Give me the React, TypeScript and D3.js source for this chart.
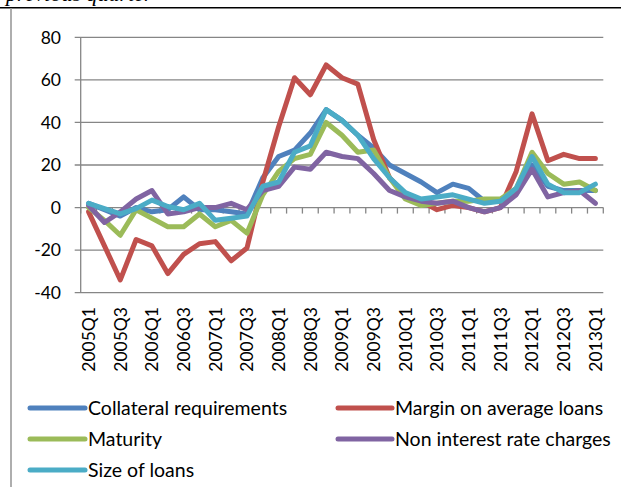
import React from "react";
import * as d3 from "d3";

// Quarterly survey results, net percentages
const quarters = [
  "2005Q1", "2005Q2", "2005Q3", "2005Q4",
  "2006Q1", "2006Q2", "2006Q3", "2006Q4",
  "2007Q1", "2007Q2", "2007Q3", "2007Q4",
  "2008Q1", "2008Q2", "2008Q3", "2008Q4",
  "2009Q1", "2009Q2", "2009Q3", "2009Q4",
  "2010Q1", "2010Q2", "2010Q3", "2010Q4",
  "2011Q1", "2011Q2", "2011Q3", "2011Q4",
  "2012Q1", "2012Q2", "2012Q3", "2012Q4",
  "2013Q1",
];

const collateral = [2, -1, -4, 0, -2, -1, 5, -1, -1, -2, -3, 14, 24, 27, 35, 46, 41, 34, 28, 20, 16, 12, 7, 11, 9, 3, 3, 8, 20, 10, 8, 8, 8];
const margin = [-2, -18, -34, -15, -18, -31, -22, -17, -16, -25, -19, 12, 38, 61, 53, 67, 61, 58, 32, 14, 6, 3, -1, 1, 0, -2, 0, 17, 44, 22, 25, 23, 23];
const maturity = [0, -6, -13, -1, -5, -9, -9, -3, -9, -6, -12, 6, 17, 23, 25, 40, 34, 26, 27, 14, 4, 1, 2, 3, 3, 4, 4, 9, 26, 16, 11, 12, 8];
const nonInterest = [1, -7, -2, 4, 8, -3, -2, 0, 0, 2, -1, 8, 10, 19, 18, 26, 24, 23, 16, 8, 5, 3, 2, 3, 0, -2, 0, 6, 18, 5, 7, 8, 2];
const sizeOfLoans = [2, -0.5, -3, -0.5, 3.5, 0.5, -1, 2, -6, -5, -4, 10, 12, 26, 29, 46, 41, 34, 23, 14, 7, 4, 5, 6, 4, 2, 3, 9, 24, 11, 7, 7, 11];

const yTicks = [-40, -20, 0, 20, 40, 60, 80];

const seriesNames = [
  "Collateral requirements",
  "Margin on average loans",
  "Maturity",
  "Non interest rate charges",
  "Size of loans",
];
const seriesColors = ["#4F81BD", "#C0504D", "#9BBB59", "#8064A2", "#4BACC6"];
const seriesValues = [collateral, margin, maturity, nonInterest, sizeOfLoans];

const W = 621;
const H = 487;
const plotLeft = 80.7;
const plotRight = 603.3;
const plotTop = 37.3;
const plotBottom = 292.7;
const gridColor = "#868686";
const font = "Lato, 'Open Sans', sans-serif";

export default function App() {
  const x = d3.scaleBand<string>().domain(quarters).range([plotLeft, plotRight]);
  const y = d3.scaleLinear().domain([-40, 80]).range([plotBottom, plotTop]);
  const cx = (q: string) => (x(q) ?? 0) + x.bandwidth() / 2;

  const line = d3
    .line<number>()
    .x((_, i) => cx(quarters[i]))
    .y((v) => y(v));

  const boundaries = quarters.map((q) => x(q) ?? 0).concat([plotRight]);

  const legendRows = [408, 439, 470];
  const legendCols = [
    { line: [30, 85], text: 88 },
    { line: [338, 392], text: 395 },
  ];

  return (
    <div style={{ position: "absolute", left: 0, top: 0 }}>
      <svg width={W} height={H} style={{ display: "block", background: "#fff" }}>
        {/* heading text, mostly above the frame */}
        <text
          x={6}
          y={1}
          fontFamily="'Liberation Serif', 'Times New Roman', serif"
          fontStyle="italic"
          fontSize={22}
          fill="#000"
        >
          previous quarter
        </text>
        <line x1={0} x2={W} y1={7.8} y2={7.8} stroke="#000" strokeWidth={1.6} />
        <line x1={11} x2={11} y1={8} y2={H} stroke="#9a9a9a" strokeWidth={1.6} />

        {/* gridlines and y axis */}
        {yTicks.map((t) => (
          <g key={t}>
            <line
              x1={plotLeft - 6}
              x2={plotRight}
              y1={y(t)}
              y2={y(t)}
              stroke={gridColor}
              strokeWidth={1.3}
            />
            <text
              x={61}
              y={y(t)}
              dy="0.36em"
              textAnchor="end"
              fontFamily={font}
              fontSize={17.5}
              fill="#000"
            >
              {t}
            </text>
          </g>
        ))}
        <line
          x1={plotLeft}
          x2={plotLeft}
          y1={plotTop}
          y2={plotBottom}
          stroke={gridColor}
          strokeWidth={1.3}
        />
        {/* category ticks on the zero line */}
        {boundaries.map((bx, i) => (
          <line
            key={i}
            x1={bx}
            x2={bx}
            y1={y(0)}
            y2={y(0) + 6}
            stroke={gridColor}
            strokeWidth={1.3}
          />
        ))}

        {/* category labels */}
        {quarters.map((q, i) =>
          i % 2 === 0 ? (
            <text
              key={q}
              transform={`translate(${cx(q)},${307}) rotate(-90)`}
              dy="0.36em"
              textAnchor="end"
              fontFamily={font}
              fontSize={17.5}
              fill="#000"
            >
              {q}
            </text>
          ) : null
        )}

        {/* series */}
        {seriesValues.map((vals, s) => (
          <path
            key={seriesNames[s]}
            d={line(vals) ?? ""}
            fill="none"
            stroke={seriesColors[s]}
            strokeWidth={5}
            strokeLinejoin="round"
            strokeLinecap="round"
          />
        ))}

        {/* legend */}
        {seriesNames.map((name, s) => {
          const row = legendRows[Math.floor(s / 2)];
          const col = legendCols[s % 2];
          return (
            <g key={name}>
              <line
                x1={col.line[0]}
                x2={col.line[1]}
                y1={row}
                y2={row}
                stroke={seriesColors[s]}
                strokeWidth={5}
                strokeLinecap="round"
              />
              <text
                x={col.text}
                y={row}
                dy="0.36em"
                fontFamily={font}
                fontSize={19.5}
                fill="#000"
              >
                {name}
              </text>
            </g>
          );
        })}
      </svg>
    </div>
  );
}
